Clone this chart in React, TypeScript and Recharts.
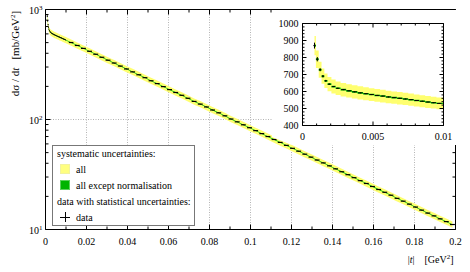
import { Area, CartesianGrid, ComposedChart, ErrorBar, Scatter, XAxis, YAxis } from "recharts";

const FONT = '"Liberation Serif", "Times New Roman", serif';

// |t| bin centres [GeV^2] and dsigma/dt [mb/GeV^2]
const tValues = [
  0.00085, 0.00105, 0.00125, 0.00145, 0.00165, 0.0019, 0.0022, 0.0025, 0.0029, 0.0033, 0.0037, 0.0041, 0.0045,
  0.0049, 0.0053, 0.0057, 0.0061, 0.0065, 0.0069, 0.0073, 0.0077, 0.0081, 0.0085, 0.0089, 0.0093, 0.0097,
  0.0125, 0.0155, 0.0185, 0.0215, 0.0245, 0.0275, 0.0305, 0.0335, 0.0365, 0.0395, 0.0425, 0.0455, 0.0485,
  0.0515, 0.0545, 0.0575, 0.0605, 0.0635, 0.0665, 0.0695, 0.0725, 0.0755, 0.0785, 0.0815, 0.0845, 0.0875,
  0.0905, 0.0935, 0.0965, 0.0995, 0.1025, 0.1055, 0.1085, 0.1115, 0.1145, 0.1175, 0.1205, 0.1235, 0.1265,
  0.1295, 0.1325, 0.1355, 0.1385, 0.1415, 0.1445, 0.1475, 0.1505, 0.1535, 0.1565, 0.1595, 0.1625, 0.1655,
  0.1685, 0.1715, 0.1745, 0.1775, 0.1805, 0.1835, 0.1865, 0.1895, 0.1925, 0.1955, 0.1985,
];
const dsdtValues = [
  870, 790, 728, 690, 663, 643, 629, 619, 611, 604, 598, 592, 587, 582, 577, 573, 568, 564, 560, 556, 552, 547,
  543, 538, 534, 530,
  501, 471, 443, 417, 392, 368, 346, 326, 306, 288, 271, 255, 240, 225, 212, 199, 187, 176, 166, 156, 146, 138,
  130, 122, 115, 108, 101, 95.2, 89.5, 84.2, 79.2, 74.4, 70.0, 65.8, 61.9, 58.2, 54.7, 51.5, 48.4, 45.5, 42.8,
  40.3, 37.9, 35.6, 33.5, 31.5, 29.6, 27.8, 26.2, 24.6, 23.1, 21.8, 20.5, 19.2, 18.1, 17.0, 16.0, 15.0, 14.1,
  13.3, 12.5, 11.8, 11.1,
];
// statistical uncertainty in %, the first bins are larger
const statErrPct = [2.0, 1.6, 1.2, 1.0, 0.8, 0.7];
const statErrPctRest = 0.5;
const sysAllPct = 6.5;
const sysNoNormPct = 0.8;

const mainXTicks = [0, 0.01, 0.02, 0.03, 0.04, 0.05, 0.06, 0.07, 0.08, 0.09, 0.1, 0.11, 0.12, 0.13, 0.14, 0.15, 0.16, 0.17, 0.18, 0.19, 0.2];
const mainYTicks = [10, 20, 30, 40, 50, 60, 70, 80, 90, 100, 200, 300, 400, 500, 600, 700, 800, 900, 1000];
const mainYLabels = [10, 100, 1000];
const mainXGrid = [0.02, 0.04, 0.06, 0.08, 0.1, 0.12, 0.14, 0.16, 0.18];
const mainYGrid = [100];
const insetXTicks = [0, 0.001, 0.002, 0.003, 0.004, 0.005, 0.006, 0.007, 0.008, 0.009, 0.01];
const insetYTicks = [
  400, 420, 440, 460, 480, 500, 520, 540, 560, 580, 600, 620, 640, 660, 680, 700, 720, 740, 760, 780, 800, 820,
  840, 860, 880, 900, 920, 940, 960, 980, 1000,
];

const rows = tValues.map((t, i) => {
  const v = dsdtValues[i];
  const left = i > 0 ? t - tValues[i - 1] : Infinity;
  const right = i < tValues.length - 1 ? tValues[i + 1] - t : Infinity;
  const stat = statErrPct[i] ?? statErrPctRest;
  return {
    t,
    dsdt: v,
    xErr: 0.4 * Math.min(left, right),
    yErr: (v * stat) / 100,
    sysAll: [v * (1 - sysAllPct / 100), v * (1 + sysAllPct / 100)],
    sysNoNorm: [v * (1 - sysNoNormPct / 100), v * (1 + sysNoNormPct / 100)],
  };
});
const insetRows = rows.filter((r) => r.t < 0.013);

const mainXMajor = (v: number) => Math.round(v * 100) % 2 === 0;
const mainYMajor = (v: number) => mainYLabels.includes(v);
const insetXMajor = (v: number) => Math.round(v * 1000) % 5 === 0;
const insetYMajor = (v: number) => v % 100 === 0;

const bottomTick = (isMajor: (v: number) => boolean, labelDy: number, len: number[]) => (p: any) => {
  const v = p.payload.value;
  const major = isMajor(v);
  return (
    <g>
      <line x1={p.x} x2={p.x} y1={p.y} y2={p.y - (major ? len[0] : len[1])} stroke="#000" />
      {major && (
        <text x={p.x} y={p.y + labelDy} textAnchor="middle" fontSize={10} fontFamily={FONT} fill="#000">
          {String(v)}
        </text>
      )}
    </g>
  );
};
const topTick = (isMajor: (v: number) => boolean, len: number[]) => (p: any) => (
  <line x1={p.x} x2={p.x} y1={p.y} y2={p.y + (isMajor(p.payload.value) ? len[0] : len[1])} stroke="#000" />
);
const rightTick = (isMajor: (v: number) => boolean, len: number[]) => (p: any) => (
  <line x1={p.x} x2={p.x - (isMajor(p.payload.value) ? len[0] : len[1])} y1={p.y} y2={p.y} stroke="#000" />
);

const mainLeftTick = (p: any) => {
  const v = p.payload.value;
  const major = mainYMajor(v);
  return (
    <g>
      <line x1={p.x} x2={p.x + (major ? 5 : 3)} y1={p.y} y2={p.y} stroke="#000" />
      {major && (
        <text x={p.x - 3} y={p.y + 4} textAnchor="end" fontSize={10} fontFamily={FONT} fill="#000">
          10
          <tspan dy={-4} fontSize={7}>
            {Math.round(Math.log10(v))}
          </tspan>
        </text>
      )}
    </g>
  );
};

const insetLeftTick = (p: any) => {
  const v = p.payload.value;
  const major = insetYMajor(v);
  return (
    <g>
      <line x1={p.x} x2={p.x + (major ? 4 : 2)} y1={p.y} y2={p.y} stroke="#000" />
      {major && (
        <text x={p.x - 4} y={p.y + 3.5} textAnchor="end" fontSize={10} fontFamily={FONT} fill="#000">
          {v}
        </text>
      )}
    </g>
  );
};

const yTitle = (p: any) => {
  const x = p.viewBox.x + 19;
  const y = p.viewBox.y + 44;
  return (
    <text x={x} y={y} transform={`rotate(-90 ${x} ${y})`} textAnchor="middle" fontSize={11} fontFamily={FONT} fill="#000">
      dσ / d<tspan fontStyle="italic">t</tspan>
      <tspan dx={8}>[mb/GeV</tspan>
      <tspan dy={-4} fontSize={7}>2</tspan>
      <tspan dy={4}>]</tspan>
    </text>
  );
};

const xTitle = (p: any) => (
  <text x={p.viewBox.x + p.viewBox.width - 2} y={p.viewBox.y + 33.5} textAnchor="end" fontSize={10} fontFamily={FONT} fill="#000">
    |<tspan fontStyle="italic">t</tspan>|<tspan dx={10}>[GeV</tspan>
    <tspan dy={-4} fontSize={7}>2</tspan>
    <tspan dy={4}>]</tspan>
  </text>
);

const noDot = () => <g />;

const legendRows = [
  { kind: "title", text: "systematic uncertainties:" },
  { kind: "yellow", text: "all" },
  { kind: "green", text: "all except normalisation" },
  { kind: "title", text: "data with statistical uncertainties:" },
  { kind: "data", text: "data" },
];

function LegendBox() {
  return (
    <div
      style={{
        position: "absolute",
        left: 52,
        top: 145,
        width: 143,
        height: 81,
        border: "1px solid #777",
        background: "#fff",
        boxSizing: "border-box",
        fontFamily: FONT,
        fontSize: 10,
        paddingLeft: 4,
        color: "#000",
        whiteSpace: "nowrap",
      }}
    >
      <div style={{ marginTop: -1 }}>
        {legendRows.map((r, i) => (
          <div key={i} style={{ height: 16, display: "flex", alignItems: "center" }}>
            {r.kind !== "title" && (
              <div style={{ width: 10, height: 10, marginLeft: 3, marginRight: 6 }}>
                {r.kind === "yellow" && <div style={{ width: 10, height: 10, background: "#ffff80", boxSizing: "border-box", border: "1px solid #f2f2a0" }} />}
                {r.kind === "green" && <div style={{ width: 10, height: 10, background: "#00b400", boxSizing: "border-box", border: "1px solid #5cd05c" }} />}
                {r.kind === "data" && (
                  <svg width={10} height={10} style={{ display: "block" }}>
                    <line x1={0} x2={10} y1={5.5} y2={5.5} stroke="#000" />
                    <line x1={5.5} x2={5.5} y1={0} y2={10} stroke="#000" />
                  </svg>
                )}
              </div>
            )}
            <span>{r.text}</span>
          </div>
        ))}
      </div>
    </div>
  );
}

function Inset() {
  return (
    <div
      style={{
        position: "absolute",
        left: 272,
        top: 10,
        width: 186,
        height: 135,
        background: "#fff",
        clipPath: "polygon(0 0, 186px 0, 186px 135px, 20px 135px, 0 127px)",
      }}
    >
      <ComposedChart width={186} height={135} data={insetRows} margin={{ top: 0, right: 0, bottom: 0, left: 0 }}>
        <XAxis
          dataKey="t"
          type="number"
          domain={[0, 0.01]}
          allowDataOverflow
          ticks={insetXTicks}
          interval={0}
          tickSize={0}
          tickMargin={0}
          height={19.5}
          stroke="#000"
          tick={bottomTick(insetXMajor, 14, [4, 2])}
        />
        <XAxis xAxisId="top" orientation="top" dataKey="t" type="number" domain={[0, 0.01]} allowDataOverflow ticks={insetXTicks} interval={0} tickSize={0} tickMargin={0} height={13.5} stroke="#000" tick={topTick(insetXMajor, [4, 2])} />
        <YAxis type="number" domain={[400, 1000]} allowDataOverflow ticks={insetYTicks} interval={0} tickSize={0} tickMargin={0} width={30.5} stroke="#000" tick={insetLeftTick} />
        <YAxis yAxisId="right" orientation="right" type="number" domain={[400, 1000]} allowDataOverflow ticks={insetYTicks} interval={0} tickSize={0} tickMargin={0} width={14.5} stroke="#000" tick={rightTick(insetYMajor, [4, 2])} />
        <Area dataKey="sysAll" type="step" stroke="none" fill="#ffff70" fillOpacity={1} dot={false} activeDot={false} isAnimationActive={false} />
        <Area dataKey="sysNoNorm" type="step" stroke="none" fill="#00c000" fillOpacity={1} dot={false} activeDot={false} isAnimationActive={false} />
        <Scatter dataKey="dsdt" shape={noDot} isAnimationActive={false}>
          <ErrorBar dataKey="xErr" direction="x" width={0} stroke="#000" strokeWidth={1} isAnimationActive={false} />
          <ErrorBar dataKey="yErr" direction="y" width={0} stroke="#000" strokeWidth={1} isAnimationActive={false} />
        </Scatter>
      </ComposedChart>
    </div>
  );
}

export default function App() {
  return (
    <div style={{ position: "absolute", left: 0, top: 0, width: 470, height: 272, background: "#fff", fontFamily: FONT }}>
      <ComposedChart width={470} height={272} data={rows} margin={{ top: 0, right: 0, bottom: 0, left: 0 }}>
        <CartesianGrid horizontalValues={mainYGrid} verticalValues={mainXGrid} stroke="#b4b4b4" strokeDasharray="1 1.5" />
        <XAxis
          dataKey="t"
          type="number"
          domain={[0, 0.2]}
          allowDataOverflow
          ticks={mainXTicks}
          interval={0}
          tickSize={0}
          tickMargin={0}
          height={42.5}
          stroke="#000"
          tick={bottomTick(mainXMajor, 15.5, [5, 3])}
          label={xTitle}
        />
        <XAxis xAxisId="top" orientation="top" dataKey="t" type="number" domain={[0, 0.2]} allowDataOverflow ticks={mainXTicks} interval={0} tickSize={0} tickMargin={0} height={9.5} stroke="#000" tick={topTick(mainXMajor, [5, 3])} />
        <YAxis
          type="number"
          scale="log"
          domain={[10, 1000]}
          allowDataOverflow
          ticks={mainYTicks}
          interval={0}
          tickSize={0}
          tickMargin={0}
          width={45.5}
          stroke="#000"
          tick={mainLeftTick}
          label={yTitle}
        />
        <YAxis yAxisId="right" orientation="right" type="number" scale="log" domain={[10, 1000]} allowDataOverflow ticks={mainYTicks} interval={0} tickSize={0} tickMargin={0} width={14.5} stroke="#000" tick={rightTick(mainYMajor, [5, 3])} />
        <Area dataKey="sysAll" type="linear" stroke="none" fill="#ffff70" fillOpacity={1} dot={false} activeDot={false} isAnimationActive={false} />
        <Area dataKey="sysNoNorm" type="linear" stroke="none" fill="#00c000" fillOpacity={1} dot={false} activeDot={false} isAnimationActive={false} />
        <Scatter dataKey="dsdt" shape={noDot} isAnimationActive={false}>
          <ErrorBar dataKey="xErr" direction="x" width={0} stroke="#000" strokeWidth={1.2} isAnimationActive={false} />
          <ErrorBar dataKey="yErr" direction="y" width={0} stroke="#000" strokeWidth={1} isAnimationActive={false} />
        </Scatter>
      </ComposedChart>
      <Inset />
      <LegendBox />
    </div>
  );
}
